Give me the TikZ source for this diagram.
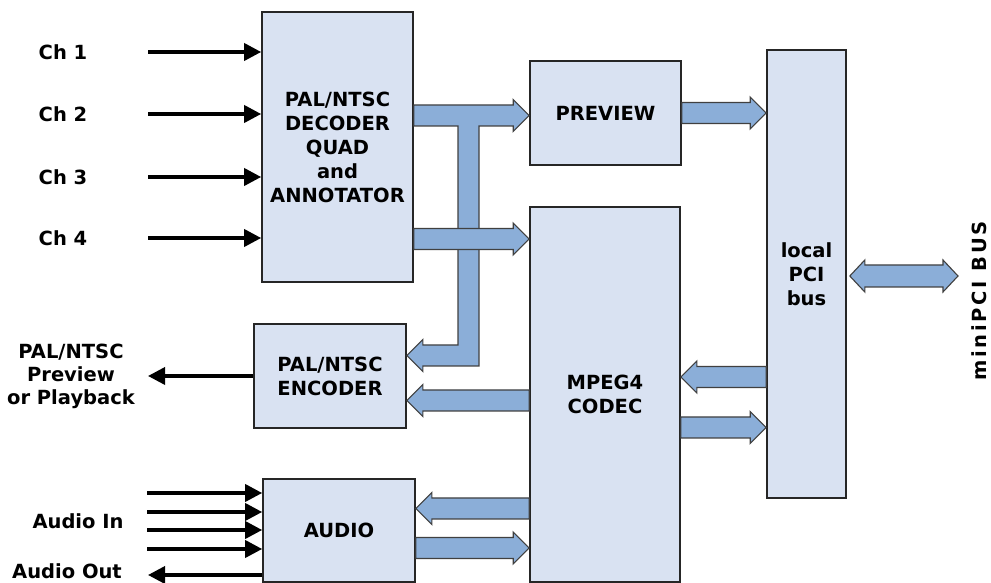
\documentclass[tikz,border=0pt]{standalone}
\usepackage{fontspec}
\setmainfont{DejaVu Sans}
\usetikzlibrary{arrows.meta}
\usetikzlibrary{calc,positioning}

\definecolor{blkfill}{RGB}{217,226,242}
\definecolor{busfill}{RGB}{139,174,216}

% seta larga horizontal de #1 ate #2
\newcommand{\widearrow}[2]{%
  \draw[wide] let \p1=(#1), \p2=(#2), \n1={ifthenelse(\x2>\x1,\x2-16pt,\x2+16pt)} in
    (\x1,\y1+10.5pt) -- (\n1,\y1+10.5pt) -- (\n1,\y1+16pt) -- (\x2,\y1)
    -- (\n1,\y1-16pt) -- (\n1,\y1-10.5pt) -- (\x1,\y1-10.5pt) -- cycle;}

\begin{document}
\begin{tikzpicture}[x=1pt, y=1pt,
    blk/.style={draw=black!85, line width=1.6pt, fill=blkfill, align=center, inner sep=0pt,
      font=\fontsize{19.5}{24}\selectfont\bfseries},
    lbl/.style={align=center, inner sep=0pt, font=\fontsize{19.5}{23}\selectfont\bfseries},
    wide/.style={draw=black!75, line width=1.1pt, fill=busfill, line join=miter},
    sig/.style={line width=3.5pt, -{Triangle[length=17pt,width=17pt]}}]
    \useasboundingbox (0,0) rectangle (991,583);

    % blocos
    \node[blk, minimum width=151pt, minimum height=270pt] (dec) at (337.5,436) {PAL/NTSC\\DECODER\\QUAD\\and\\ANNOTATOR};
    \node[blk, minimum width=151pt, minimum height=104pt] (prev) at (605.5,470) {PREVIEW};
    \node[blk, minimum width=150pt, minimum height=375pt] (mpeg) at (605,188.5) {MPEG4\\CODEC};
    \node[blk, minimum width=79pt, minimum height=448pt] (pci) at (806.5,309) {local\\PCI\\bus};
    \node[blk, minimum width=152pt, minimum height=104pt] (enc) at (330,207) {PAL/NTSC\\ENCODER};
    \node[blk, minimum width=152pt, minimum height=103pt] (aud) at (339,52.5) {AUDIO};

    % entradas de video
    \foreach \n/\y in {1/531,2/469,3/406,4/345} {
        \node[lbl] (ch\n) at (63,\y) {Ch \n};
        \coordinate (in\n) at (148,\y);
        \draw[sig] (in\n) -- (dec.west |- in\n);
    }

    % saida de video
    \node[lbl] (vout) at (71,207) {PAL/NTSC\\Preview\\or Playback};
    \coordinate (vtip) at (148,207);
    \draw[sig] (enc.west) -- (vtip);

    % audio
    \node[lbl] (ain) at (78,62) {Audio In};
    \foreach \y [count=\k] in {90,71,53,34} {
        \coordinate (a\k) at (147,\y);
        \draw[sig] (a\k) -- (aud.west |- a\k);
    }
    \node[lbl] (aout) at (67,12) {Audio Out};
    \coordinate (atip) at (148,8);
    \draw[sig] (aud.west |- atip) -- (atip);

    % barramento do decoder: T ate o encoder
    \draw[wide] let \p1=(dec.east), \p2=(prev.west), \p3=(enc.east) in
        (\x1,478pt) -- (\x2-16pt,478pt) -- (\x2-16pt,483.5pt) -- (\x2,467.5pt)
        -- (\x2-16pt,451.5pt) -- (\x2-16pt,457pt) -- (479pt,457pt) -- (479pt,217pt)
        -- (\x3+16pt,217pt) -- (\x3+16pt,211.5pt) -- (\x3,227.5pt) -- (\x3+16pt,243.5pt)
        -- (\x3+16pt,238pt) -- (458pt,238pt) -- (458pt,457pt) -- (\x1,457pt) -- cycle;

    % setas largas
    \widearrow{dec.east |- 0,344}{mpeg.west |- 0,344}
    \widearrow{prev.east}{pci.west |- prev.east}
    \widearrow{pci.west |- 0,206}{mpeg.east |- 0,206}
    \widearrow{mpeg.east |- 0,155.5}{pci.west |- 0,155.5}
    \widearrow{mpeg.west |- 0,182.5}{enc.east |- 0,182.5}
    \widearrow{mpeg.west |- 0,74.5}{aud.east |- 0,74.5}
    \widearrow{aud.east |- 0,35}{mpeg.west |- 0,35}

    % miniPCI
    \coordinate (bus) at (958,307);
    \draw[wide] let \p1=($(pci.east |- bus)+(3,0)$), \p2=(bus) in
        (\x1,\y1) -- (\x1+15pt,\y1+16pt) -- (\x1+15pt,\y1+11pt) -- (\x2-15pt,\y1+11pt)
        -- (\x2-15pt,\y1+16pt) -- (\x2,\y1) -- (\x2-15pt,\y1-16pt) -- (\x2-15pt,\y1-11pt)
        -- (\x1+15pt,\y1-11pt) -- (\x1+15pt,\y1-16pt) -- cycle;
    \node[lbl, rotate=90, font=\fontsize{19.5}{23}\selectfont\bfseries\addfontfeatures{LetterSpace=14}] (mini) at (979,282) {miniPCI BUS};
\end{tikzpicture}
\end{document}
